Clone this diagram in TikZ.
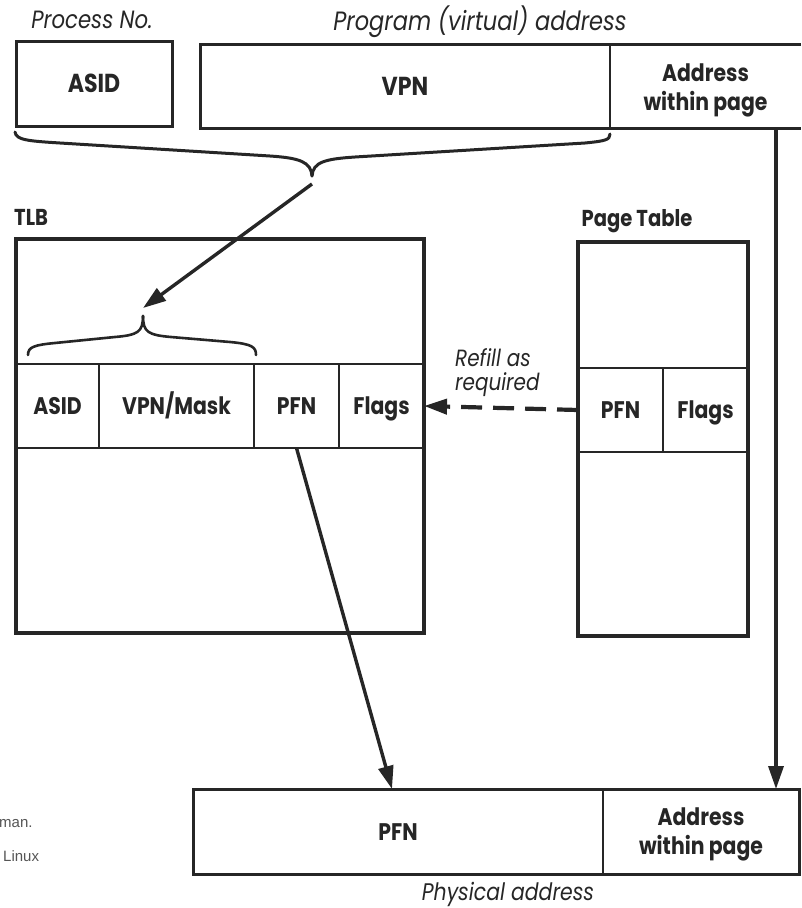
\documentclass[tikz,border=0pt]{standalone}
\usepackage{fontspec}
\setmainfont{Poppins}[FakeStretch=0.85]
\newfontfamily\sidefont{Liberation Sans}
\usetikzlibrary{arrows.meta,calc}
\definecolor{ink}{HTML}{262626}
\definecolor{sidegray}{HTML}{555555}
\begin{document}
\begin{tikzpicture}[x=1pt,y=-1pt,
  cell/.style={draw=ink, line width=1.8pt, inner sep=0pt, outer sep=0pt, anchor=north west,
    font=\fontsize{24}{29}\selectfont\bfseries, text=ink, align=center},
  one/.style={text height=17pt, text depth=0pt},
  bigcell/.style={cell, one, font=\fontsize{26}{29}\selectfont\bfseries, text height=18.5pt},
  frame/.style={draw=ink, line width=3.2pt, inner sep=0pt, outer sep=0pt, anchor=north west},
  capt/.style={font=\fontsize{25}{29}\selectfont\itshape, text=ink, inner sep=0pt},
  ttl/.style={font=\fontsize{23}{27}\selectfont\bfseries, text=ink, inner sep=0pt},
  arr/.style={draw=ink, line width=3.4pt, -{Triangle[length=23pt,width=15pt]}},
  brace/.style={draw=ink, line width=3pt, line cap=round},
]
\useasboundingbox (0,0) rectangle (801,908);

% ---------- top: virtual address ----------
\node[capt] (procno) at (92,20) {Process No.};
\node[capt, font=\fontsize{26.5}{29}\selectfont\itshape] (progaddr) at (480,22) {Program (virtual) address};
\node[bigcell, line width=3pt, minimum width=156pt, minimum height=85pt] (asid) at (16,41) {ASID};
\node[bigcell, minimum width=410pt, minimum height=84pt] (vpn) at (200,44) {VPN};
\node[cell, draw=none, minimum width=191pt, minimum height=84pt, yshift=-4pt] (voff) at (610,44) {Address\\within page};
\draw[ink, line width=3pt] (801,44) -- (vpn.north west) -- (vpn.south west) -- (801,128);
\draw[ink, line width=2pt] (vpn.north east) -- (vpn.south east);

% top brace
\coordinate (btip) at (312,176);
\draw[brace] (15,132) .. controls (16,140) and (28,141) .. (60,143)
  -- (270,156) .. controls (300,158) and (311,162) .. (btip);
\draw[brace] (btip) .. controls (313,162) and (325,159) .. (355,157)
  -- (585,143) .. controls (605,141) and (610,140) .. (610,134);

% ---------- TLB ----------
\node[ttl, anchor=west] (tlbl) at (14,217) {TLB};
\node[cell, one, minimum width=83pt, minimum height=84pt] (tasid) at (16,364) {ASID};
\node[cell, one, minimum width=155pt, minimum height=84pt] (tvpn) at (99,364) {VPN/Mask};
\node[cell, one, minimum width=85pt, minimum height=84pt] (tpfn) at (254,364) {PFN};
\node[cell, one, minimum width=85pt, minimum height=84pt] (tflags) at (339,364) {Flags};
\node[frame, minimum width=408pt, minimum height=394pt] (tlb) at (16,239) {};

% inner brace
\coordinate (itip) at (143,316);
\draw[brace, line width=2.6pt] (28,355) .. controls (28,347) and (34,345) .. (55,343)
  -- (115,337) .. controls (138,335) and (143,332) .. (itip);
\draw[brace, line width=2.6pt] (itip) .. controls (143,332) and (148,335) .. (171,337)
  -- (230,342) .. controls (252,344) and (256,347) .. (256,355);

% ---------- Page table ----------
\node[ttl] (ptl) at (637,221) {Page Table};
\node[cell, one, minimum width=85pt, minimum height=84pt] (ppfn) at (578,368) {PFN};
\node[cell, one, minimum width=85pt, minimum height=84pt] (pflags) at (663,368) {Flags};
\node[frame, minimum width=170pt, minimum height=394pt] (pt) at (578,242) {};

\node[capt, font=\fontsize{23.5}{24}\selectfont\itshape, anchor=west, align=left] (refill) at (455,373) {Refill as\\required};

% ---------- bottom: physical address ----------
\node[cell, one, draw=none, minimum width=410pt, minimum height=85pt] (bpfn) at (193,789) {PFN};
\node[cell, draw=none, minimum width=196pt, minimum height=85pt, yshift=-3pt] (boff) at (603,789) {Address\\within page};
\coordinate (bcorner) at (799,874);
\draw[ink, line width=3pt] (bpfn.north west) rectangle (bcorner);
\draw[ink, line width=2pt] (bpfn.north east) -- (bpfn.south east);
\node[capt, font=\fontsize{24}{29}\selectfont\itshape] (physaddr) at (508,894) {Physical address};

% side fragments
\node[font=\fontsize{15}{17}\sidefont, text=sidegray, anchor=west, inner sep=0pt] (sidea) at (-1,824) {man.};
\node[font=\fontsize{15}{17}\sidefont, text=sidegray, anchor=west, inner sep=0pt] (sideb) at (3,856) {Linux};

% ---------- connectors ----------
\coordinate (bstart) at (312,184);
\coordinate (ihead) at (143,308);
\draw[arr] (bstart) -- (ihead);
\draw[arr] (tpfn.south) -- ($(bpfn.north)+(-6,0)$);
\coordinate (rtop) at (776,128);
\coordinate (rbot) at (776,789);
\draw[arr] (rtop) -- (rbot);
\draw[arr, line width=4.2pt, dash pattern=on 21pt off 11pt] (ppfn.west) -- (tflags.east);
\end{tikzpicture}
\end{document}
